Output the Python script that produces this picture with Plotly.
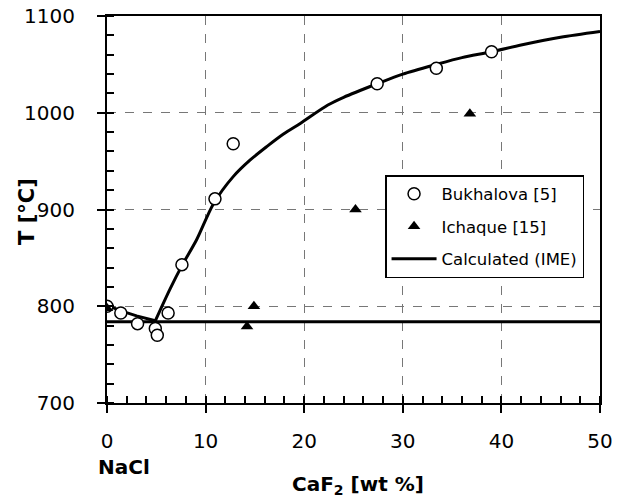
import plotly.graph_objects as go

# Bukhalova [5] experimental points
buk_x = [0, 1.4, 3.1, 4.9, 5.1, 6.2, 7.6, 10.95, 12.8, 27.4, 33.4, 39.0]
buk_T = [800, 793, 782, 777, 770, 793, 843, 911, 968, 1030, 1046, 1063]

# Ichaque [15] experimental points
ich_x = [0, 14.2, 14.9, 25.2, 36.8]
ich_T = [798, 779, 800, 900, 999]

# Calculated (IME) curves
calc1_x = [0, 1.5, 3, 4.9]
calc1_T = [801, 795, 790, 785]
calc2_x = [4.9, 6.4, 7.6, 9.1, 10.8, 12.8, 14.5, 16.2, 17.9, 19.6, 22.4, 24, 27.4, 30, 33.4, 36, 39, 42, 46, 50]
calc2_T = [785, 818, 842, 869, 906, 934, 951, 965, 978, 989, 1008, 1016, 1030, 1040, 1050, 1057, 1063, 1070, 1078, 1084]
eut_x = [0, 50]
eut_T = [784, 784]

FONT = "DejaVu Sans, Arial, sans-serif"

fig = go.Figure()
line_style = dict(color="black", width=3)
fig.add_trace(go.Scatter(x=eut_x, y=eut_T, mode="lines", line=line_style,
                         showlegend=False, legendgroup="calc"))
fig.add_trace(go.Scatter(x=calc1_x, y=calc1_T, mode="lines", line=line_style,
                         showlegend=False, legendgroup="calc"))
fig.add_trace(go.Scatter(x=calc2_x, y=calc2_T, mode="lines", name="Calculated (IME)",
                         line=dict(color="black", width=3, shape="spline", smoothing=0.8),
                         legendgroup="calc", legendrank=3))
fig.add_trace(go.Scatter(x=buk_x, y=buk_T, mode="markers", name="Bukhalova [5]",
                         legendgroup="buk", legendrank=1,
                         marker=dict(symbol="circle", size=12, color="white",
                                     line=dict(color="black", width=1.5))))
fig.add_trace(go.Scatter(x=ich_x, y=ich_T, mode="markers", name="Ichaque [15]",
                         legendgroup="ich", legendrank=2,
                         marker=dict(symbol="triangle-up", size=11, color="black")))

axis_common = dict(
    showline=True, linecolor="black", linewidth=2, mirror=True,
    showgrid=True, gridcolor="#777777", griddash="dash", gridwidth=1,
    zeroline=False, ticks="outside", ticklen=8, tickwidth=2, tickcolor="black",
    tickfont=dict(family=FONT, size=20, color="black"),
    automargin=False,
)

fig.update_xaxes(range=[0, 50], dtick=10, tick0=0, ticklabelstandoff=11,
                 minor=dict(dtick=2, ticks="inside", ticklen=7, tickwidth=2,
                            tickcolor="black", showgrid=False),
                 **axis_common)
fig.update_yaxes(range=[700, 1100], dtick=100, tick0=700, ticklabelstandoff=18,
                 minor=dict(dtick=20, ticks="inside", ticklen=7, tickwidth=2,
                            tickcolor="black", showgrid=False),
                 **axis_common)

fig.add_annotation(text="<b>CaF<sub>2</sub> [wt %]</b>", x=0.51, y=-0.212,
                   xref="paper", yref="paper", xanchor="center", yanchor="middle",
                   showarrow=False, font=dict(family=FONT, size=20, color="black"))
fig.add_annotation(text="<b>T [°C]</b>", x=-0.162, y=0.494, textangle=-90,
                   xref="paper", yref="paper", xanchor="center", yanchor="middle",
                   showarrow=False, font=dict(family=FONT, size=21, color="black"))
fig.add_annotation(text="<b>NaCl</b>", x=-0.022, y=-0.165,
                   xref="paper", yref="paper", xanchor="left", yanchor="middle",
                   showarrow=False, font=dict(family=FONT, size=20, color="black"))

fig.update_layout(
    width=627, height=497,
    margin=dict(l=107, r=27, t=16, b=94),
    plot_bgcolor="white", paper_bgcolor="white",
    font=dict(family=FONT, size=16, color="black"),
    legend=dict(x=0.564, y=0.589, xanchor="left", yanchor="top",
                bgcolor="white", bordercolor="black", borderwidth=1.5,
                font=dict(family=FONT, size=16.5, color="black"),
                traceorder="grouped", itemwidth=45, tracegroupgap=8),
    showlegend=True,
)

fig.write_html("out.html",
               config={"displayModeBar": False},
               post_script="document.body.style.margin='0';document.body.style.overflow='hidden';")
